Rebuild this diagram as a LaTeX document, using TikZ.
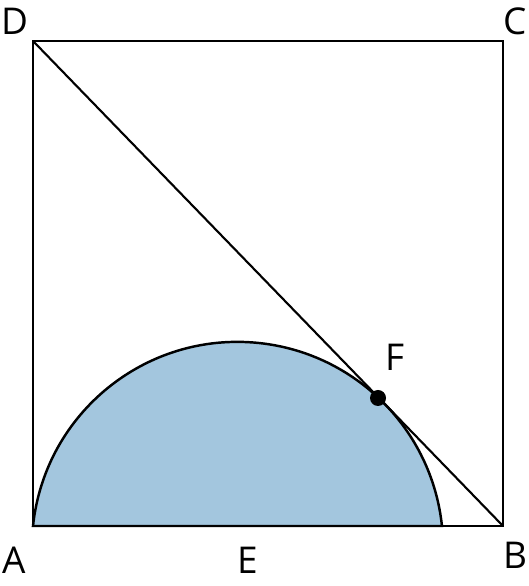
\documentclass[tikz,border=0pt]{standalone}
\usepackage{fontspec}
\setmainfont{Open Sans}
\usepackage{xcolor}
\definecolor{halfblue}{RGB}{163,198,222}

\begin{document}
\begin{tikzpicture}[x=0.01cm, y=0.01cm, line width=0.6pt,
    lbl/.style={font=\fontsize{10.5}{12}\selectfont, inner sep=0pt}]
\useasboundingbox (0,0) rectangle (528,586);
\coordinate (A) at (33,60);
\coordinate (B) at (503,60);
\coordinate (C) at (503,545);
\coordinate (D) at (33,545);
\coordinate (F) at (378,188);
% half disc
\filldraw[fill=halfblue, line width=0.7pt] (A) arc[start angle=174, end angle=6, radius=205.6] -- cycle;
\draw (A) -- (B) -- (C) -- (D) -- cycle;
\draw (D) -- (B);
\fill (F) circle (8);
\node[lbl] (lA) at (14,26) {A};
\node[lbl] (lB) at (515,31) {B};
\node[lbl] (lC) at (515,565) {C};
\node[lbl] (lD) at (15,565) {D};
\node[lbl] (lE) at (248,26) {E};
\node[lbl] (lF) at (395,229) {F};
\end{tikzpicture}
\end{document}
